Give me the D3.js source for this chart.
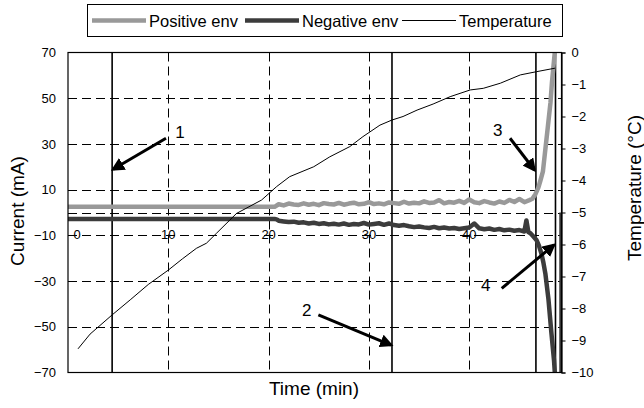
<!DOCTYPE html>
<html>
<head>
<meta charset="utf-8">
<script src="https://cdn.jsdelivr.net/npm/d3@7/dist/d3.min.js"></script>
<style>
  body { margin: 0; background: #fff; }
  text { font-family: Arial, "Liberation Sans", sans-serif; fill: #000; }
</style>
</head>
<body>
<svg id="chart" width="644" height="408"></svg>
<script>
// data: [time (min), value]
var posEnv = [[0, 2.5], [20.6, 2.5], [21.0, 3.6], [21.5, 3.1], [22.0, 3.9], [22.5, 3.5], [23.0, 3.3], [23.5, 4.0],
  [24.0, 3.4], [24.5, 3.8], [25.0, 3.2], [25.5, 4.1], [26.0, 3.7], [26.5, 3.5], [27.0, 4.2], [27.5, 3.4],
  [28.0, 3.9], [28.5, 4.3], [29.0, 3.6], [29.5, 3.8], [30.0, 4.5], [30.5, 3.7], [31.0, 4.0], [31.5, 3.6],
  [32.0, 4.4], [32.5, 4.1], [33.0, 3.8], [33.5, 4.7], [34.0, 3.9], [34.5, 4.3], [35.0, 4.0], [35.5, 4.9],
  [36.0, 4.2], [36.5, 4.4], [37.0, 5.4], [37.5, 4.0], [38.0, 4.6], [38.5, 4.3], [39.0, 5.1], [39.5, 4.2],
  [40.0, 5.7], [40.5, 4.5], [41.0, 4.1], [41.5, 5.0], [42.0, 4.4], [42.5, 3.9], [43.0, 4.8], [43.5, 4.2],
  [44.0, 5.5], [44.5, 4.6], [45.0, 5.9], [45.5, 4.5], [46.0, 5.4], [46.3, 6], [46.6, 8], [46.9, 11],
  [47.1, 14], [47.35, 18], [47.55, 26], [47.85, 38], [48.1, 48], [48.25, 57], [48.4, 64], [48.55, 71], [48.7, 85]];

var negEnv = [[0, -2.85], [20.6, -2.85], [20.8, -3.0], [21.0, -3.6], [21.5, -3.9], [22.0, -4.2], [22.5, -4.0],
  [23.0, -4.5], [23.5, -4.3], [24.0, -4.8], [24.5, -4.5], [25.0, -5.0], [25.5, -4.7], [26.0, -5.2], [26.5, -4.9],
  [27.0, -5.3], [27.5, -4.8], [28.0, -5.4], [28.5, -5.0], [29.0, -5.2], [29.5, -4.6], [30.0, -5.3], [30.5, -5.0],
  [31.0, -4.7], [31.5, -5.4], [32.0, -4.8], [32.5, -5.5], [33.0, -5.8], [33.5, -5.5], [34.0, -6.0], [34.5, -6.4],
  [35.0, -6.1], [35.5, -6.5], [36.0, -6.8], [36.5, -6.3], [37.0, -6.9], [37.5, -6.6], [38.0, -7.0], [38.5, -6.8],
  [39.0, -7.2], [39.5, -6.9], [40.0, -6.6], [40.5, -4.8], [41.0, -6.9], [41.5, -7.3], [42.0, -7.0], [42.5, -7.6],
  [43.0, -7.2], [43.5, -7.8], [44.0, -7.5], [44.5, -8.0], [45.0, -7.7], [45.5, -8.3], [45.7, -3.5], [45.9, -8.6],
  [46.1, -9.1], [46.4, -10.5], [46.7, -12], [46.95, -14.5], [47.2, -18], [47.4, -22], [47.6, -27], [47.9, -38],
  [48.2, -53], [48.45, -64.5], [48.55, -71], [48.7, -85], [49.2, -85], [49.2, 0]];

var temperature = [[1.0, -9.26], [2.2, -8.80], [4.4, -8.20], [6.2, -7.73], [8.0, -7.25], [10.0, -6.80],
  [11.4, -6.45], [12.8, -6.12], [13.8, -5.96], [14.8, -5.65], [16.8, -5.03], [19.3, -4.61], [20.8, -4.19],
  [22.1, -3.88], [24.5, -3.57], [26.1, -3.26], [28.1, -2.94], [29.4, -2.63], [31.1, -2.27], [32.3, -2.11],
  [33.4, -2.00], [34.8, -1.80], [36.4, -1.61], [38.1, -1.38], [40.1, -1.17], [41.4, -1.12], [43.1, -0.96],
  [45.1, -0.70], [46.7, -0.60], [48.55, -0.49]];

var eventTimes = [4.4, 32.3, 46.65, 48.6];
var xTicks = [0, 10, 20, 30, 40];
var currentTicks = [70, 50, 30, 10, -10, -30, -50, -70];
var currentGrid = [50, 30, 10, 0, -10, -30, -50];
var tempTicks = [0, -1, -2, -3, -4, -5, -6, -7, -8, -9, -10];

// arrows: label, tail [t, mA], tip [t, mA], label position [t, mA]
var arrows = [
  {label: "1", from: [9.77, 32.5], to: [4.5, 18.9], at: [11.17, 35.4]},
  {label: "2", from: [24.96, -44.8], to: [32.2, -58.0], at: [23.8, -42.7]},
  {label: "3", from: [44.07, 32.5], to: [46.5, 18.6], at: [42.84, 36.1]},
  {label: "4", from: [43.24, -33.2], to: [48.45, -14.2], at: [41.64, -31.7]}
];

var legendItems = [
  {name: "Positive env", color: "#999999", width: 4.5},
  {name: "Negative env", color: "#3c3c3c", width: 4.5},
  {name: "Temperature", color: "#000000", width: 1}
];

var svg = d3.select("#chart");
var pLeft = 68, pRight = 561.5, pTop = 52.5, pBottom = 372.5;

var x = d3.scaleLinear().domain([0, 49.2]).range([pLeft, pRight]);
var yL = d3.scaleLinear().domain([-70, 70]).range([pBottom, pTop]);
var yR = d3.scaleLinear().domain([-10, 0]).range([pBottom, pTop]);

var defs = svg.append("defs");
defs.append("clipPath").attr("id", "plot-clip")
  .append("rect")
  .attr("x", pLeft).attr("y", pTop)
  .attr("width", pRight - pLeft).attr("height", pBottom - pTop);

svg.append("rect").attr("width", 644).attr("height", 408).attr("fill", "#fff");

// dashed grid
var grid = svg.append("g").attr("stroke", "#000").attr("stroke-width", 1).attr("stroke-dasharray", "9,5");
grid.selectAll("line.v").data(xTicks.filter(function(d) { return d > 0; })).enter()
  .append("line").attr("class", "v")
  .attr("x1", function(d) { return Math.round(x(d)) + 0.5; })
  .attr("x2", function(d) { return Math.round(x(d)) + 0.5; })
  .attr("y1", pTop).attr("y2", pBottom);
grid.selectAll("line.h").data(currentGrid).enter()
  .append("line").attr("class", "h")
  .attr("x1", pLeft).attr("x2", pRight)
  .attr("y1", function(d) { return Math.round(yL(d)) + 0.5; })
  .attr("y2", function(d) { return Math.round(yL(d)) + 0.5; });

// event markers
svg.append("g").selectAll("line").data(eventTimes).enter()
  .append("line")
  .attr("x1", function(d) { return x(d); }).attr("x2", function(d) { return x(d); })
  .attr("y1", pTop).attr("y2", pBottom)
  .attr("stroke", "#000").attr("stroke-width", 1.6);

// series
var plot = svg.append("g").attr("clip-path", "url(#plot-clip)");
var lineL = d3.line().x(function(d) { return x(d[0]); }).y(function(d) { return yL(d[1]); });
var lineR = d3.line().x(function(d) { return x(d[0]); }).y(function(d) { return yR(d[1]); });

plot.append("path").datum(posEnv).attr("d", lineL)
  .attr("fill", "none").attr("stroke", legendItems[0].color).attr("stroke-width", legendItems[0].width)
  .attr("stroke-linejoin", "round");
plot.append("path").datum(negEnv).attr("d", lineL)
  .attr("fill", "none").attr("stroke", legendItems[1].color).attr("stroke-width", legendItems[1].width)
  .attr("stroke-linejoin", "round");
plot.append("path").datum(temperature).attr("d", lineR)
  .attr("fill", "none").attr("stroke", legendItems[2].color).attr("stroke-width", 1);

// plot frame
svg.append("rect")
  .attr("x", pLeft).attr("y", pTop).attr("width", pRight - pLeft).attr("height", pBottom - pTop)
  .attr("fill", "none").attr("stroke", "#000").attr("stroke-width", 1.2);

// left axis labels
var yAxisL = d3.axisLeft(yL).tickValues(currentTicks).tickSize(0).tickPadding(12);
var gL = svg.append("g").attr("transform", "translate(" + pLeft + ",0)").call(yAxisL);
gL.select(".domain").remove();
gL.selectAll("text").style("font-size", "13px").style("font-family", "Arial, 'Liberation Sans', sans-serif");

// right axis
var yAxisR = d3.axisRight(yR).tickValues(tempTicks).tickSize(4).tickPadding(6);
var gR = svg.append("g").attr("transform", "translate(" + pRight + ",0)").call(yAxisR);
gR.select(".domain").attr("stroke-width", 1.2);
gR.selectAll("text").style("font-size", "13px").style("font-family", "Arial, 'Liberation Sans', sans-serif");

// x labels sit on the zero line
svg.append("g").selectAll("text").data(xTicks).enter()
  .append("text")
  .attr("x", function(d) { return d === 0 ? x(d) + 9 : x(d); })
  .attr("y", 239)
  .attr("text-anchor", "middle")
  .style("font-size", "13px")
  .text(function(d) { return d; });

// axis titles
svg.append("text").attr("transform", "translate(24,211) rotate(-90)")
  .attr("text-anchor", "middle").style("font-size", "19px").text("Current (mA)");
svg.append("text").attr("transform", "translate(641,188) rotate(-90)")
  .attr("text-anchor", "middle").style("font-size", "19px").text("Temperature (°C)");
svg.append("text").attr("x", 314).attr("y", 395)
  .attr("text-anchor", "middle").style("font-size", "19px").text("Time (min)");

// arrows
var marker = defs.append("marker")
  .attr("id", "head").attr("viewBox", "0 0 10 10")
  .attr("refX", 8).attr("refY", 5)
  .attr("markerWidth", 4.5).attr("markerHeight", 4.5)
  .attr("markerUnits", "strokeWidth")
  .attr("orient", "auto");
marker.append("path").attr("d", "M0,0L10,5L0,10z").attr("fill", "#000");

var ag = svg.append("g");
ag.selectAll("line").data(arrows).enter()
  .append("line")
  .attr("x1", function(d) { return x(d.from[0]); }).attr("y1", function(d) { return yL(d.from[1]); })
  .attr("x2", function(d) { return x(d.to[0]); }).attr("y2", function(d) { return yL(d.to[1]); })
  .attr("stroke", "#000").attr("stroke-width", 3)
  .attr("marker-end", "url(#head)");
ag.selectAll("text").data(arrows).enter()
  .append("text")
  .attr("x", function(d) { return x(d.at[0]); })
  .attr("y", function(d) { return yL(d.at[1]); })
  .attr("dy", "0.35em")
  .attr("text-anchor", "middle")
  .style("font-size", "17px")
  .text(function(d) { return d.label; });

// legend
var lg = svg.append("g");
lg.append("rect").attr("x", 87.5).attr("y", 4.5).attr("width", 475).attr("height", 32)
  .attr("fill", "#fff").attr("stroke", "#000").attr("stroke-width", 1);
var entryX = [92, 245, 402];
legendItems.forEach(function(item, i) {
  lg.append("line")
    .attr("x1", entryX[i]).attr("x2", entryX[i] + 54)
    .attr("y1", 20.5).attr("y2", 20.5)
    .attr("stroke", item.color).attr("stroke-width", item.width);
  lg.append("text")
    .attr("x", entryX[i] + 57).attr("y", 26.5)
    .style("font-size", "16.5px")
    .text(item.name);
});
</script>
</body>
</html>
